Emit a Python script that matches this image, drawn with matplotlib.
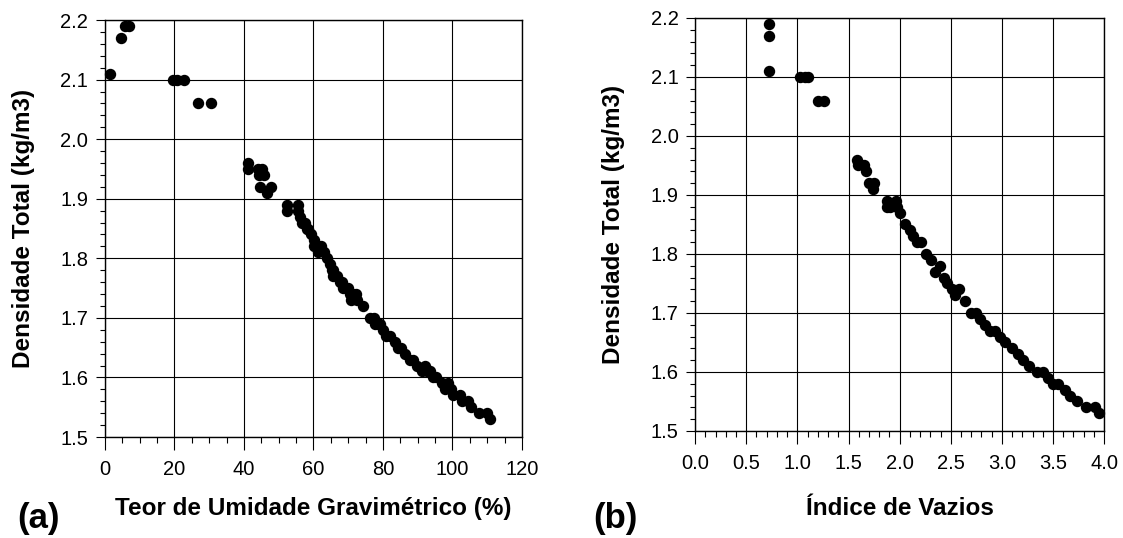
import numpy as np
import matplotlib.pyplot as plt
from matplotlib.ticker import MultipleLocator

plt.rcParams['font.family'] = ['Liberation Sans', 'DejaVu Sans']

# (a) teor de umidade gravimetrico (%) x densidade total
w_a = [1.5, 4.5, 5.8, 7.0, 19.5, 20.8, 22.8, 26.9, 30.5,
       41.2, 41.2, 44.1, 45.3, 44.4, 45.8, 44.6, 47.7, 46.7,
       52.3, 52.3, 55.6, 55.6, 56.2, 56.6, 57.6, 58.2, 58.5, 59.3,
       60.1, 60.1, 61.4, 62.1, 63.0, 63.8, 64.7, 65.2, 65.7, 65.5,
       66.9, 67.6, 68.2, 68.6, 69.4, 70.0, 70.5, 70.7, 71.4, 72.2,
       72.4, 74.3, 76.3, 77.4, 77.7, 78.5, 79.1, 80.1, 81.0, 82.0,
       83.5, 84.4, 85.3, 86.3, 87.8, 88.7, 89.7, 91.1, 92.1, 92.8,
       93.5, 94.5, 95.4, 96.9, 97.8, 98.8, 99.5, 100.2, 102.2, 102.6,
       104.6, 105.3, 107.5, 109.8, 110.8]
rho_a = [2.11, 2.17, 2.19, 2.19, 2.10, 2.10, 2.10, 2.06, 2.06,
         1.96, 1.95, 1.95, 1.95, 1.94, 1.94, 1.92, 1.92, 1.91,
         1.89, 1.88, 1.89, 1.88, 1.87, 1.86, 1.86, 1.85, 1.85, 1.84,
         1.83, 1.82, 1.81, 1.82, 1.81, 1.80, 1.79, 1.78, 1.78, 1.77,
         1.77, 1.76, 1.76, 1.75, 1.75, 1.75, 1.74, 1.73, 1.74, 1.74,
         1.73, 1.72, 1.70, 1.70, 1.69, 1.69, 1.69, 1.68, 1.67, 1.67,
         1.66, 1.65, 1.65, 1.64, 1.63, 1.63, 1.62, 1.61, 1.62, 1.61,
         1.61, 1.60, 1.60, 1.59, 1.58, 1.59, 1.58, 1.57, 1.57, 1.56,
         1.56, 1.55, 1.54, 1.54, 1.53]

# (b) indice de vazios x densidade total
e_b = [0.72, 0.72, 0.72, 1.03, 1.07, 1.10, 1.20, 1.26,
       1.58, 1.59, 1.65, 1.67, 1.70, 1.75, 1.74,
       1.88, 1.88, 1.96, 1.91, 1.97, 2.00, 2.05, 2.10, 2.13, 2.17,
       2.21, 2.26, 2.31, 2.35, 2.39, 2.43, 2.46, 2.51, 2.54, 2.58,
       2.64, 2.70, 2.75, 2.79, 2.83, 2.88, 2.93, 2.98, 3.03, 3.10,
       3.16, 3.21, 3.27, 3.34, 3.40, 3.45, 3.50, 3.55, 3.62, 3.67,
       3.73, 3.82, 3.91, 3.95]
rho_b = [2.19, 2.17, 2.11, 2.10, 2.10, 2.10, 2.06, 2.06,
         1.96, 1.95, 1.95, 1.94, 1.92, 1.92, 1.91,
         1.89, 1.88, 1.89, 1.88, 1.88, 1.87, 1.85, 1.84, 1.83, 1.82,
         1.82, 1.80, 1.79, 1.77, 1.78, 1.76, 1.75, 1.74, 1.73, 1.74,
         1.72, 1.70, 1.70, 1.69, 1.68, 1.67, 1.67, 1.66, 1.65, 1.64,
         1.63, 1.62, 1.61, 1.60, 1.60, 1.59, 1.58, 1.58, 1.57, 1.56,
         1.55, 1.54, 1.54, 1.53]

fig = plt.figure(figsize=(11.23, 5.38), dpi=100)
ax1 = fig.add_axes([0.0935, 0.1877, 0.3713, 0.775])
ax2 = fig.add_axes([0.619, 0.1989, 0.3642, 0.7677])


def style(ax, xmaj, xmin):
    ax.set_ylim(1.5, 2.2)
    ax.yaxis.set_major_locator(MultipleLocator(0.1))
    ax.yaxis.set_minor_locator(MultipleLocator(0.02))
    ax.xaxis.set_major_locator(MultipleLocator(xmaj))
    ax.xaxis.set_minor_locator(MultipleLocator(xmin))
    ax.grid(True, which='major', color='black', lw=0.8)
    ax.set_axisbelow(True)
    ax.tick_params(which='both', direction='out', width=0.8,
                   labelsize=14.5, colors='black')
    ax.tick_params(axis='x', which='major', length=9.4, pad=7)
    ax.tick_params(axis='x', which='minor', length=4.3)
    ax.tick_params(axis='y', which='major', length=6.5, pad=5.5)
    ax.tick_params(axis='y', which='minor', length=3.6)
    for s in ax.spines.values():
        s.set_linewidth(1.0)
    ax.set_ylabel('Densidade Total (kg/m3)', fontsize=17.5, fontweight='bold')


ax1.plot(w_a, rho_a, 'o', color='black', ms=7.2, zorder=3, clip_on=False)
ax1.set_xlim(0, 120)
style(ax1, 20, 5)
ax1.set_xlabel('Teor de Umidade Gravimétrico (%)', fontsize=17.5,
               fontweight='bold', va='baseline')
ax1.xaxis.set_label_coords(0.5, -0.187)
ax1.yaxis.set_label_coords(-0.168, 0.5)

ax2.plot(e_b, rho_b, 'o', color='black', ms=7.2, zorder=3, clip_on=False)
ax2.set_xlim(0, 4)
style(ax2, 0.5, 0.1)
ax2.xaxis.set_major_formatter(plt.FormatStrFormatter('%.1f'))
ax2.set_xlabel('Índice de Vazios', fontsize=17.5, fontweight='bold',
               va='baseline')
ax2.xaxis.set_label_coords(0.5, -0.203)
ax2.yaxis.set_label_coords(-0.171, 0.5)

fig.text(0.0151, 0.0186, '(a)', fontsize=25, fontweight='bold', va='baseline')
fig.text(0.528, 0.0186, '(b)', fontsize=25, fontweight='bold', va='baseline')

fig.savefig('out.png', dpi=100)
